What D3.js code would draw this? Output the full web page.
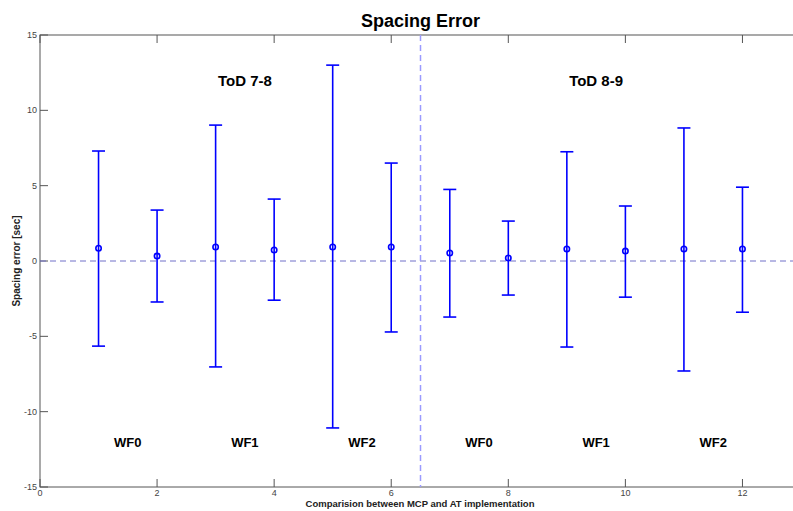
<!DOCTYPE html>
<html>
<head>
<meta charset="utf-8">
<script src="https://cdn.jsdelivr.net/npm/d3@7"></script>
<style>
  body { margin: 0; background: #fff; overflow: hidden; }
  text { font-family: Arial, "Liberation Sans", sans-serif; }
</style>
</head>
<body>
<div id="chart"></div>
<script>
// x positions (run index) and measured spacing error
var runs   = [1, 2, 3, 4, 5, 6, 7, 8, 9, 10, 11, 12];
var means  = [0.85, 0.33, 0.93, 0.73, 0.93, 0.93, 0.53, 0.2, 0.8, 0.66, 0.8, 0.8];
var uppers = [7.3, 3.38, 9.02, 4.11, 13.0, 6.5, 4.75, 2.65, 7.25, 3.65, 8.83, 4.9];
var lowers = [-5.65, -2.72, -7.03, -2.6, -11.08, -4.71, -3.72, -2.26, -5.71, -2.4, -7.3, -3.4];

var groupLabels = ['WF0', 'WF1', 'WF2', 'WF0', 'WF1', 'WF2'];
var groupPos    = [1.5, 3.5, 5.5, 7.5, 9.5, 11.5];
var todLabels   = ['ToD 7-8', 'ToD 8-9'];
var todPos      = [3.5, 9.5];
var xTicks = [0, 2, 4, 6, 8, 10, 12];
var yTicks = [-15, -10, -5, 0, 5, 10, 15];

var width = 793, height = 511;
var margin = { left: 40, top: 35, right: -8, bottom: 24 };

var svg = d3.select('#chart')
  .append('svg')
    .attr('width', width)
    .attr('height', height);

var x = d3.scaleLinear().domain([0, 13]).range([margin.left, width - margin.right]);
var y = d3.scaleLinear().domain([-15, 15]).range([height - margin.bottom, margin.top]);

var axisColor = '#555';

// axes box
svg.append('rect')
  .attr('x', x(0)).attr('y', y(15))
  .attr('width', x(13) - x(0)).attr('height', y(-15) - y(15))
  .attr('fill', 'none').attr('stroke', axisColor).attr('stroke-width', 1);

// ticks (inward, on both sides)
var tickG = svg.append('g').attr('stroke', axisColor).attr('stroke-width', 1);
xTicks.forEach(function(t) {
  tickG.append('line').attr('x1', x(t)).attr('x2', x(t)).attr('y1', y(-15)).attr('y2', y(-15) - 8);
  tickG.append('line').attr('x1', x(t)).attr('x2', x(t)).attr('y1', y(15)).attr('y2', y(15) + 8);
});
yTicks.forEach(function(t) {
  tickG.append('line').attr('x1', x(0)).attr('x2', x(0) + 8).attr('y1', y(t)).attr('y2', y(t));
});

svg.append('g')
  .selectAll('text')
  .data(xTicks)
  .enter()
    .append('text')
      .attr('x', function(d) { return x(d); })
      .attr('y', y(-15) + 9)
      .attr('text-anchor', 'middle')
      .attr('font-size', 9)
      .attr('fill', '#444')
      .text(function(d) { return d; });

svg.append('g')
  .selectAll('text')
  .data(yTicks)
  .enter()
    .append('text')
      .attr('x', x(0) - 3)
      .attr('y', function(d) { return y(d) + 3; })
      .attr('text-anchor', 'end')
      .attr('font-size', 9)
      .attr('fill', '#444')
      .text(function(d) { return d; });

// zero line and split line
svg.append('line')
  .attr('x1', x(0)).attr('x2', x(13))
  .attr('y1', y(0)).attr('y2', y(0))
  .attr('stroke', '#7070c8').attr('stroke-width', 1)
  .attr('stroke-dasharray', '6,4');

svg.append('line')
  .attr('x1', x(6.5)).attr('x2', x(6.5))
  .attr('y1', y(15)).attr('y2', y(-15))
  .attr('stroke', '#9a9aff').attr('stroke-width', 1.5)
  .attr('stroke-dasharray', '6,4');

// error bars
var bars = svg.append('g').attr('stroke', '#0000ff').attr('stroke-width', 1.6).attr('fill', 'none');
runs.forEach(function(r, i) {
  bars.append('line').attr('x1', x(r)).attr('x2', x(r)).attr('y1', y(uppers[i])).attr('y2', y(lowers[i]));
  bars.append('line').attr('x1', x(r) - 6.5).attr('x2', x(r) + 6.5).attr('y1', y(uppers[i])).attr('y2', y(uppers[i]));
  bars.append('line').attr('x1', x(r) - 6.5).attr('x2', x(r) + 6.5).attr('y1', y(lowers[i])).attr('y2', y(lowers[i]));
  bars.append('circle').attr('cx', x(r)).attr('cy', y(means[i])).attr('r', 2.7).attr('fill', 'none');
});

// annotations
svg.append('g')
  .selectAll('text')
  .data(groupLabels)
  .enter()
    .append('text')
      .attr('x', function(d, i) { return x(groupPos[i]); })
      .attr('y', y(-12) + 5)
      .attr('text-anchor', 'middle')
      .attr('font-size', 13)
      .attr('font-weight', 'bold')
      .text(function(d) { return d; });

svg.append('g')
  .selectAll('text')
  .data(todLabels)
  .enter()
    .append('text')
      .attr('x', function(d, i) { return x(todPos[i]); })
      .attr('y', y(12) + 6)
      .attr('text-anchor', 'middle')
      .attr('font-size', 15)
      .attr('font-weight', 'bold')
      .text(function(d) { return d; });

// titles
svg.append('text')
  .attr('x', (x(0) + x(13)) / 2).attr('y', 27)
  .attr('text-anchor', 'middle')
  .attr('font-size', 18)
  .attr('font-weight', 'bold')
  .text('Spacing Error');

svg.append('text')
  .attr('x', 420).attr('y', 507)
  .attr('text-anchor', 'middle')
  .attr('font-size', 9.5)
  .attr('font-weight', 'bold')
  .attr('fill', '#222')
  .text('Comparision between MCP and AT implementation');

svg.append('text')
  .attr('transform', 'translate(20,' + y(0) + ') rotate(-90)')
  .attr('text-anchor', 'middle')
  .attr('font-size', 10)
  .attr('font-weight', 'bold')
  .attr('fill', '#222')
  .text('Spacing error [sec]');
</script>
</body>
</html>
